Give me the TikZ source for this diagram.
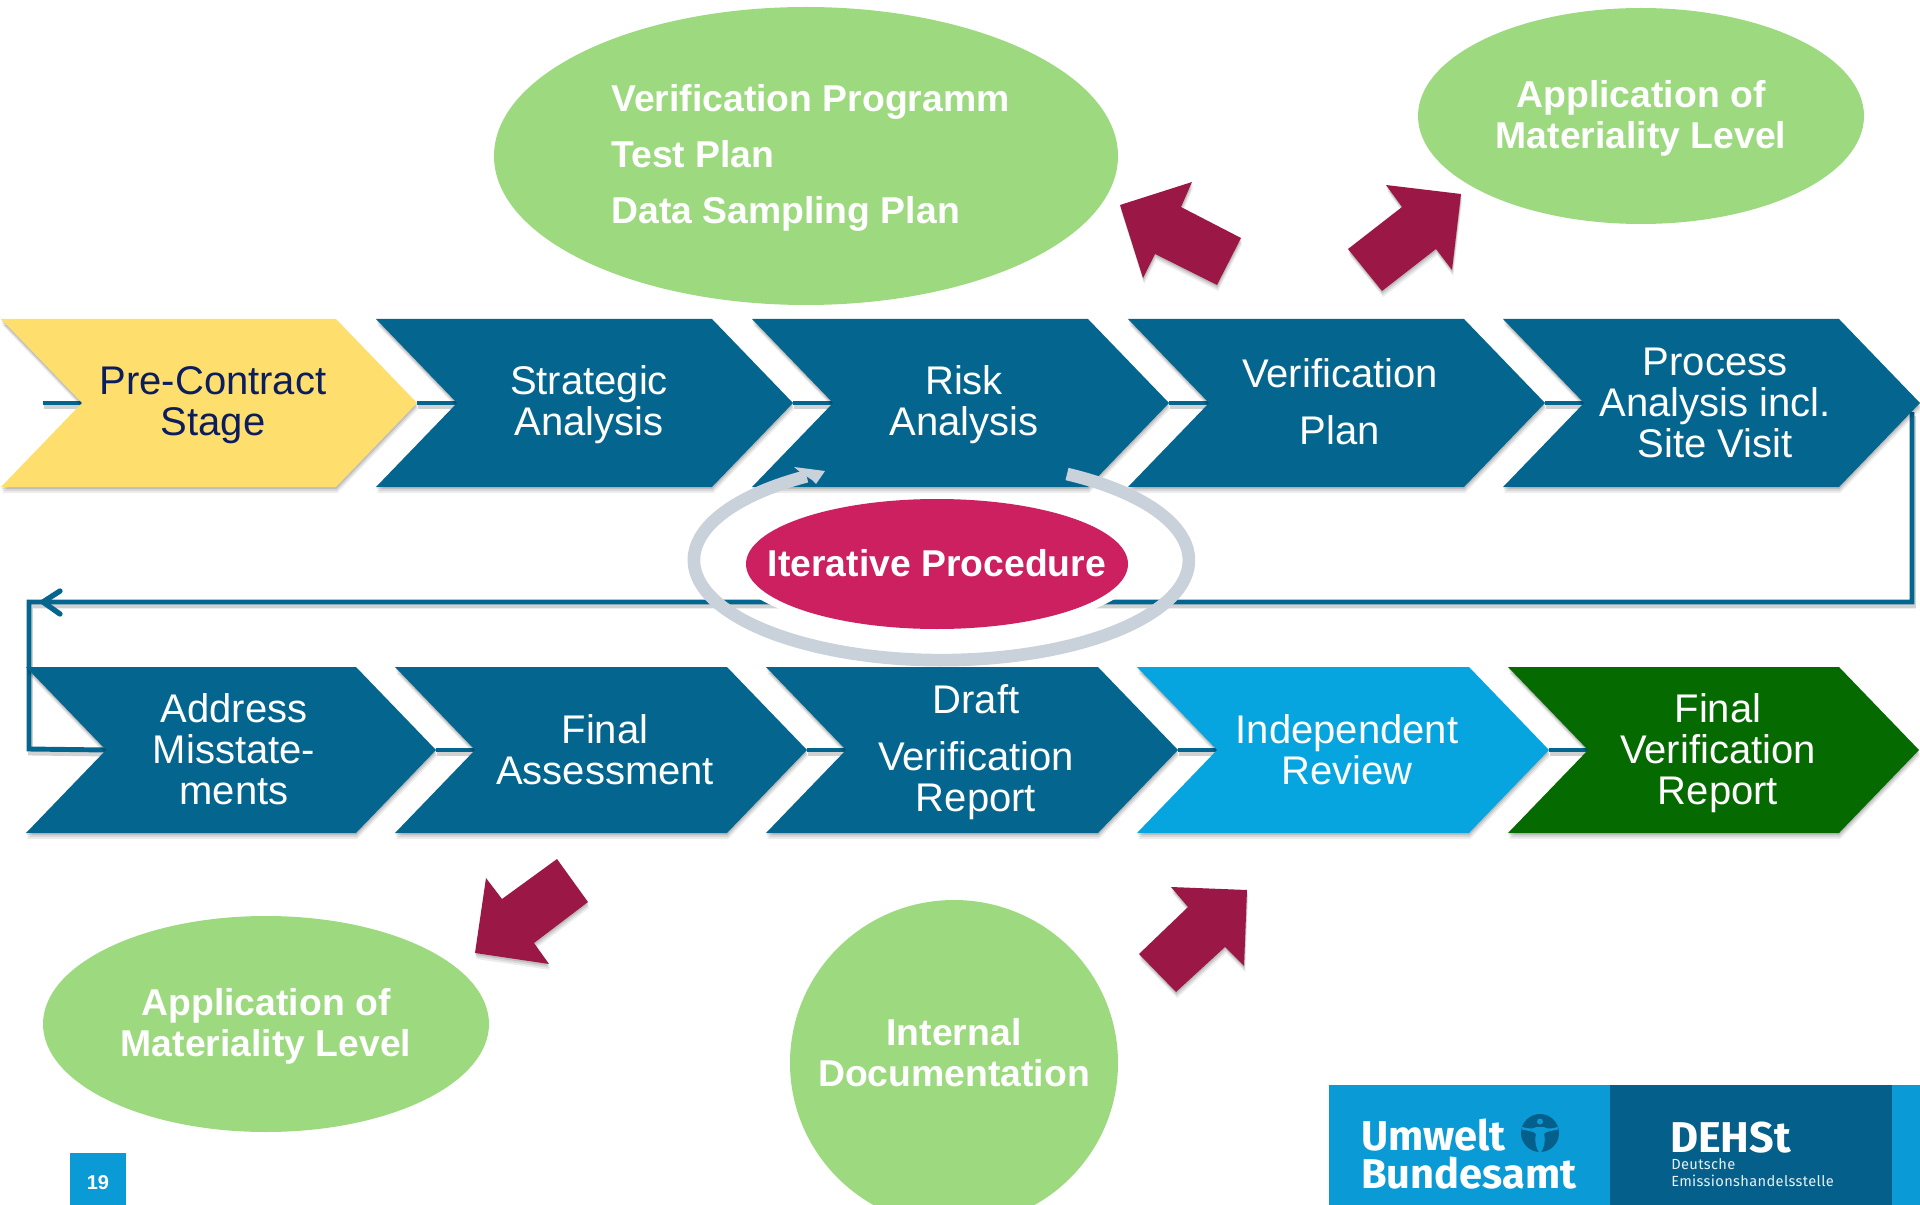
\documentclass[tikz,border=0pt]{standalone}
\usepackage{fontspec}
\setmainfont{Liberation Sans}
\newfontfamily\logofont{Fira Sans}
\newfontfamily\logospaced[LetterSpace=2.3]{Fira Sans}
\usetikzlibrary{calc,backgrounds}
\definecolor{chevblue}{HTML}{04668F}
\definecolor{chevyellow}{HTML}{FEDE6C}
\definecolor{chevsky}{HTML}{06A5E0}
\definecolor{chevgreen}{HTML}{056A00}
\definecolor{navytext}{HTML}{0B1D5E}
\definecolor{leaf}{HTML}{9DD97F}
\definecolor{wine}{HTML}{9B1846}
\definecolor{iter}{HTML}{CC2060}
\definecolor{ring}{HTML}{C9D1DB}
\definecolor{logosky}{HTML}{0A9AD6}
\definecolor{logodark}{HTML}{045F8B}
\tikzset{
  softshadow/.style={
    preaction={draw=none,fill=black,opacity=.07,transform canvas={xshift=.9pt,yshift=-4.5pt}},
    preaction={draw=none,fill=black,opacity=.09,transform canvas={xshift=.6pt,yshift=-3pt}},
    preaction={draw=none,fill=black,opacity=.12,transform canvas={xshift=.3pt,yshift=-1.5pt}}},
  linkline/.style={draw=chevblue,line width=3.7pt},
  linkshadow/.style={draw=black,opacity=.18,line width=3.7pt,transform canvas={xshift=1pt,yshift=-3pt}},
  chevtext/.style={font=\fontsize{30}{30.75}\selectfont,align=center,text=white,inner sep=0pt},
  bubbletext/.style={font=\bfseries\fontsize{28}{30.75}\selectfont,align=center,text=white,inner sep=0pt},
  redarrow/.style={fill=wine,draw=none,softshadow},
}
% \chev{name}{left x}{center y}{half height}{notch depth}{body length}{colour}
\newcommand{\chev}[7]{%
  \coordinate (#1-in) at (#2+#5,#3);
  \coordinate (#1-out) at (#2+#6+#5,#3);
  \fill[#7,softshadow] (#2,#3-#4) -- (#2+#6,#3-#4) -- (#2+#6+#5,#3) -- (#2+#6,#3+#4) -- (#2,#3+#4) -- (#2+#5,#3) -- cycle;
}
\newcommand{\routes}[1]{%
  \draw[#1] (startfree) -- (a-in);
  \draw[#1] (a-out) -- (b-in);
  \draw[#1] (b-out) -- (c-in);
  \draw[#1] (c-out) -- (d-in);
  \draw[#1] (d-out) -- (e-in);
  \draw[#1] (rightturn) -- (rightdown) -- (leftturn) -- (leftdown) -- (f-in);
  \draw[#1] (f-out) -- (g-in);
  \draw[#1] (g-out) -- (h-in);
  \draw[#1] (h-out) -- (i-in);
  \draw[#1] (i-out) -- (j-in);
}
\begin{document}
\begin{tikzpicture}[x=0.75pt,y=-0.75pt]
\useasboundingbox (0,0) rectangle (1920,1205);
\coordinate (startfree) at (43,403);
\coordinate (rightturn) at (1912,412);
\coordinate (rightdown) at (1912,602);
\coordinate (leftturn) at (29,602);
\coordinate (leftdown) at (29,749);
\coordinate (headtip) at (43,602);
\coordinate (headup) at (60,591);
\coordinate (headdown) at (60,614);
% top row
\chev{a}{1}{403}{84}{81}{335}{chevyellow}
\chev{b}{376}{403}{84}{81}{336}{chevblue}
\chev{c}{752}{403}{84}{81}{336}{chevblue}
\chev{d}{1128}{403}{84}{81}{336}{chevblue}
\chev{e}{1503}{403}{84}{81}{336}{chevblue}
% bottom row
\chev{f}{26}{750}{83}{80}{330}{chevblue}
\chev{g}{395}{750}{83}{80}{332}{chevblue}
\chev{h}{766}{750}{83}{80}{332}{chevblue}
\chev{i}{1137}{750}{83}{80}{332}{chevsky}
\chev{j}{1508}{750}{83}{80}{331}{chevgreen}
% links, behind the chevrons
\begin{scope}[on background layer]
\routes{linkshadow}
\routes{linkline}
\draw[chevblue,line width=4pt,line cap=round] (headup) -- (headtip) -- (headdown);
\end{scope}
% chevron labels
\node[chevtext,text=navytext] (ta) at (213,405) {Pre-Contract\\Stage};
\node[chevtext] (tb) at (589,405) {Strategic\\Analysis};
\node[chevtext] (tc) at (964,405) {Risk\\Analysis};
\node[chevtext,font=\fontsize{30}{43}\selectfont] (td) at (1340,402) {Verification\\Plan};
\node[chevtext] (te) at (1715,402.5) {Process\\Analysis incl.\\Site Visit};
\node[chevtext] (tf) at (234,749.5) {Address\\Misstate-\\ments};
\node[chevtext] (tg) at (605,750) {Final\\Assessment};
\node[chevtext] (th) at (976,752.5) {Draft\\[12pt]Verification\\Report};
\node[chevtext] (ti) at (1347,750) {Independent\\Review};
\node[chevtext] (tj) at (1718,753.5) {Final\\Verification\\Report};
% green bubbles
\fill[leaf] (806,156) ellipse [x radius=312,y radius=149];
\fill[leaf] (1641,116) ellipse [x radius=223,y radius=108];
\fill[leaf] (266,1024) ellipse [x radius=223,y radius=108];
\begin{scope}
\clip (0,0) rectangle (1920,1205);
\fill[leaf] (954,1063) ellipse [x radius=164,y radius=163];
\end{scope}
\node[bubbletext,align=left,font=\bfseries\fontsize{28}{42}\selectfont] (b1) at (810.5,157.5) {Verification Programm\\Test Plan\\Data Sampling Plan};
\node[bubbletext] (b2) at (1641,118) {Application of\\Materiality Level};
\node[bubbletext] (b3) at (266,1026) {Application of\\Materiality Level};
\node[bubbletext] (b4) at (954,1053) {Internal\\Documentation};
% red arrows
\fill[redarrow] (1120,205) -- (1192,182) -- (1181,207) -- (1241,238) -- (1217,285) -- (1155,254) -- (1143,278) -- cycle;
\fill[redarrow] (1461,194) -- (1386,185) -- (1402,207) -- (1348,249) -- (1382,291) -- (1436,249) -- (1452,270) -- cycle;
\fill[redarrow] (475,953) -- (486,878) -- (502,899) -- (557,859) -- (588,902) -- (534,943) -- (549,964) -- cycle;
\fill[redarrow] (1247,890) -- (1171,887) -- (1188,907) -- (1139,954) -- (1176,992) -- (1225,947) -- (1244,966) -- cycle;
% iterative ring
\fill[white] (937,564) ellipse [x radius=205,y radius=70];
\draw[ring,line width=9.5pt] (1067,474) arc [start angle=-59.5,end angle=237,x radius=247.5,y radius=100];
\fill[ring] (825,471) -- (794,467) -- (800,472) -- (812,480) -- (816,484) -- cycle;
\fill[iter] (937,564) ellipse [x radius=191,y radius=65];
\node[font=\bfseries\fontsize{28}{30}\selectfont,text=white,inner sep=0pt] (it) at (937,563) {Iterative Procedure};
% page number
\fill[logosky] (70,1153) rectangle (126,1205);
\node[font=\bfseries\fontsize{15}{18}\selectfont,text=white,inner sep=0pt] (pg) at (98,1183) {19};
% logo
\fill[logosky] (1329,1085) rectangle (1610,1205);
\fill[logodark] (1610,1085) rectangle (1892,1205);
\fill[logosky] (1892,1085) rectangle (1920,1205);
\node[anchor=base west,inner sep=0pt,text=white,font=\logofont\bfseries\fontsize{31.2}{31}\selectfont] (l1) at (1361,1150) {Umwelt};
\node[anchor=base west,inner sep=0pt,text=white,font=\logofont\bfseries\fontsize{31.2}{31}\selectfont] (l2) at (1361,1188) {Bundesamt};
\node[anchor=base west,inner sep=0pt,text=white,font=\logofont\bfseries\fontsize{32.3}{32}\selectfont] (l3) at (1670,1152) {DEHSt};
\node[anchor=base west,inner sep=0pt,text=white,text opacity=.9,font=\logospaced\fontsize{11}{11}\selectfont,text height=6pt,text depth=0pt] (l4) at (1671,1169) {Deutsche};
\node[anchor=base west,inner sep=0pt,text=white,text opacity=.9,font=\logospaced\fontsize{11}{11}\selectfont,text height=6pt,text depth=0pt] (l5) at (1671,1186) {Emissionshandelsstelle};
\fill[logodark] (1540,1133) circle [radius=19];
\fill[logosky] (1540,1121.5) circle [radius=3];
\fill[logosky] (1522,1127) .. controls (1530,1129) and (1534,1129) .. (1536,1127) -- (1544,1127) .. controls (1546,1129) and (1550,1129) .. (1558,1127) -- (1558,1129.5) .. controls (1552,1131) and (1546,1131) .. (1544,1134) .. controls (1546,1142) and (1544,1148) .. (1540,1154) .. controls (1536,1148) and (1534,1142) .. (1536,1134) .. controls (1534,1131) and (1528,1131) .. (1522,1129.5) -- cycle;
\end{tikzpicture}
\end{document}
